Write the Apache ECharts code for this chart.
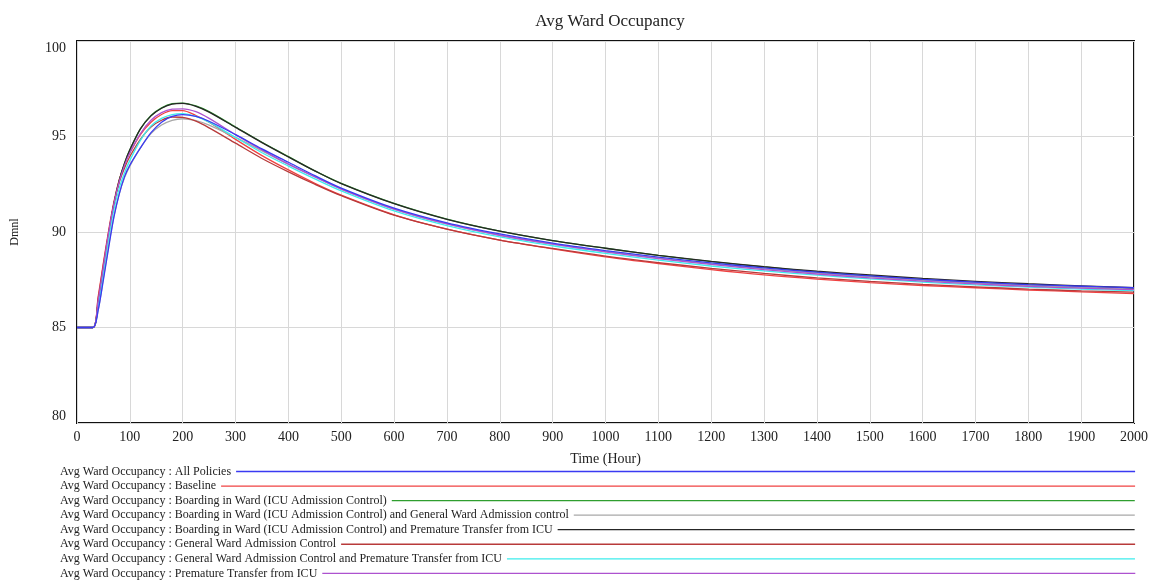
<!DOCTYPE html>
<html>
<head>
<meta charset="utf-8">
<script src="https://cdn.jsdelivr.net/npm/echarts@6/dist/echarts.min.js"></script>
<style>
html,body{margin:0;padding:0;background:#fff;}
#chart{width:1151px;height:581px;}
</style>
</head>
<body>
<div id="chart"></div>
<script>
const times = [0,30,40,50,60,70,80,90,100,120,140,160,180,200,225,250,300,350,400,450,500,600,700,800,900,1000,1100,1200,1300,1400,1500,1600,1700,1800,1900,2000];

const allPolicies      = [85,85,85.9,87.5,89.2,90.8,92.0,92.9,93.5,94.4,95.2,95.75,96.05,96.15,96.05,95.8,95.1,94.35,93.65,92.95,92.3,91.25,90.48,89.9,89.42,89.03,88.68,88.38,88.12,87.9,87.7,87.52,87.38,87.25,87.16,87.08];
const baseline         = [85,85,86.6,88.4,90.1,91.6,92.75,93.55,94.15,95.1,95.75,96.15,96.35,96.35,96.1,95.75,94.85,94.0,93.25,92.55,91.93,90.9,90.15,89.58,89.12,88.7,88.35,88.03,87.75,87.53,87.35,87.2,87.08,86.96,86.87,86.78];
const boarding         = [85,85,86.3,88.1,89.9,91.5,92.7,93.6,94.3,95.4,96.1,96.5,96.72,96.75,96.6,96.3,95.5,94.7,93.95,93.2,92.55,91.5,90.68,90.05,89.55,89.15,88.78,88.45,88.17,87.91,87.7,87.5,87.34,87.2,87.09,87.0];
const boardingGW       = [85,85,85.9,87.6,89.3,90.85,92.0,92.85,93.45,94.4,95.15,95.6,95.85,95.93,95.83,95.6,94.95,94.25,93.55,92.9,92.25,91.2,90.42,89.83,89.37,88.98,88.63,88.33,88.07,87.85,87.65,87.48,87.33,87.2,87.1,87.03];
const boardingPT       = [85,85,86.3,88.1,89.9,91.5,92.7,93.6,94.3,95.4,96.08,96.48,96.7,96.73,96.58,96.28,95.48,94.68,93.93,93.2,92.53,91.48,90.66,90.04,89.55,89.15,88.78,88.46,88.18,87.95,87.75,87.57,87.42,87.29,87.18,87.08];
const gwControl        = [85,85,86.5,88.3,90.0,91.5,92.6,93.35,93.95,94.85,95.5,95.85,96.02,96.0,95.8,95.45,94.65,93.85,93.15,92.5,91.9,90.88,90.15,89.58,89.14,88.74,88.4,88.1,87.83,87.6,87.42,87.26,87.13,87.01,86.92,86.85];
const gwPT             = [85,85,86.1,87.9,89.7,91.2,92.3,93.1,93.75,94.8,95.55,95.95,96.15,96.2,96.05,95.75,94.95,94.15,93.45,92.78,92.15,91.1,90.33,89.74,89.28,88.88,88.53,88.22,87.96,87.74,87.55,87.38,87.23,87.11,87.01,86.93];
const prematureTransfer= [85,85,86.4,88.2,90.0,91.5,92.65,93.5,94.15,95.15,95.85,96.25,96.43,96.45,96.3,95.95,95.1,94.3,93.55,92.88,92.25,91.2,90.42,89.83,89.36,88.96,88.61,88.3,88.03,87.8,87.6,87.43,87.28,87.15,87.06,86.98];

const seriesNames = [
  'Avg Ward Occupancy : All Policies',
  'Avg Ward Occupancy : Baseline',
  'Avg Ward Occupancy : Boarding in Ward (ICU Admission Control)',
  'Avg Ward Occupancy : Boarding in Ward (ICU Admission Control) and General Ward Admission control',
  'Avg Ward Occupancy : Boarding in Ward (ICU Admission Control) and Premature Transfer from ICU',
  'Avg Ward Occupancy : General Ward Admission Control',
  'Avg Ward Occupancy : General Ward Admission Control and Premature Transfer from ICU',
  'Avg Ward Occupancy : Premature Transfer from ICU'
];
const seriesValues = [allPolicies, baseline, boarding, boardingGW, boardingPT, gwControl, gwPT, prematureTransfer];
const seriesColors = ['#3a3af2','#f04242','#2f9e2f','#a8a8a8','#262626','#b83a3a','#3cecec','#ad52cf'];

const FONT = '"Liberation Serif", "Times New Roman", serif';
const cv = document.createElement('canvas').getContext('2d');
cv.font = '12px ' + FONT;

const chart = echarts.init(document.getElementById('chart'), null, {renderer:'canvas'});

const series = seriesNames.map((n, i) => ({
  name: n,
  type: 'line',
  data: times.map((t, k) => [t, seriesValues[i][k]]),
  symbol: 'none',
  showSymbol: false,
  smooth: 0.3,
  z: i === 0 ? 4 : 2,
  lineStyle: {color: seriesColors[i], width: 1.3},
  itemStyle: {color: seriesColors[i]},
  emphasis: {disabled: true},
  animation: false
}));

const legends = seriesNames.map((n, i) => {
  const w = cv.measureText(n).width;
  return {
    data: [{name: n, icon: 'rect'}],
    left: 60,
    top: 465.5 + i * 14.55,
    padding: 0,
    align: 'right',
    itemWidth: Math.round(1136 - 60 - 6 - w),
    itemHeight: 1.3,
    selectedMode: false,
    textStyle: {fontFamily: FONT, fontSize: 12, color: '#222'}
  };
});

chart.setOption({
  animation: false,
  backgroundColor: '#fff',
  title: {
    text: 'Avg Ward Occupancy',
    left: 605, textAlign: 'center', top: 8,
    textStyle: {fontFamily: FONT, fontSize: 17, fontWeight: 'normal', color: '#222'}
  },
  grid: {left: 77, right: 17, top: 41, bottom: 158, show: true, borderColor: '#111', borderWidth: 2, containLabel: false},
  legend: legends,
  xAxis: {
    type: 'value', min: 0, max: 2000, interval: 100,
    name: 'Time (Hour)', nameLocation: 'middle', nameGap: 29,
    nameTextStyle: {fontFamily: FONT, fontSize: 14, color: '#222'},
    axisLine: {show: false}, axisTick: {show: false},
    axisLabel: {fontFamily: FONT, fontSize: 14, color: '#222', margin: 7, formatter: v => String(v)},
    splitLine: {show: true, lineStyle: {color: '#d8d8d8', width: 1}}
  },
  yAxis: {
    type: 'value', min: 80, max: 100, interval: 5,
    name: 'Dmnl', nameLocation: 'middle', nameGap: 56, nameRotate: 90,
    nameTextStyle: {fontFamily: FONT, fontSize: 12, color: '#222'},
    axisLine: {show: false}, axisTick: {show: false},
    axisLabel: {fontFamily: FONT, fontSize: 14, color: '#222', margin: 11,
      formatter: v => String(v),
      verticalAlignMinLabel: 'bottom', verticalAlignMaxLabel: 'top'},
    splitLine: {show: true, lineStyle: {color: '#d8d8d8', width: 1}}
  },
  series: series
});
</script>
</body>
</html>
